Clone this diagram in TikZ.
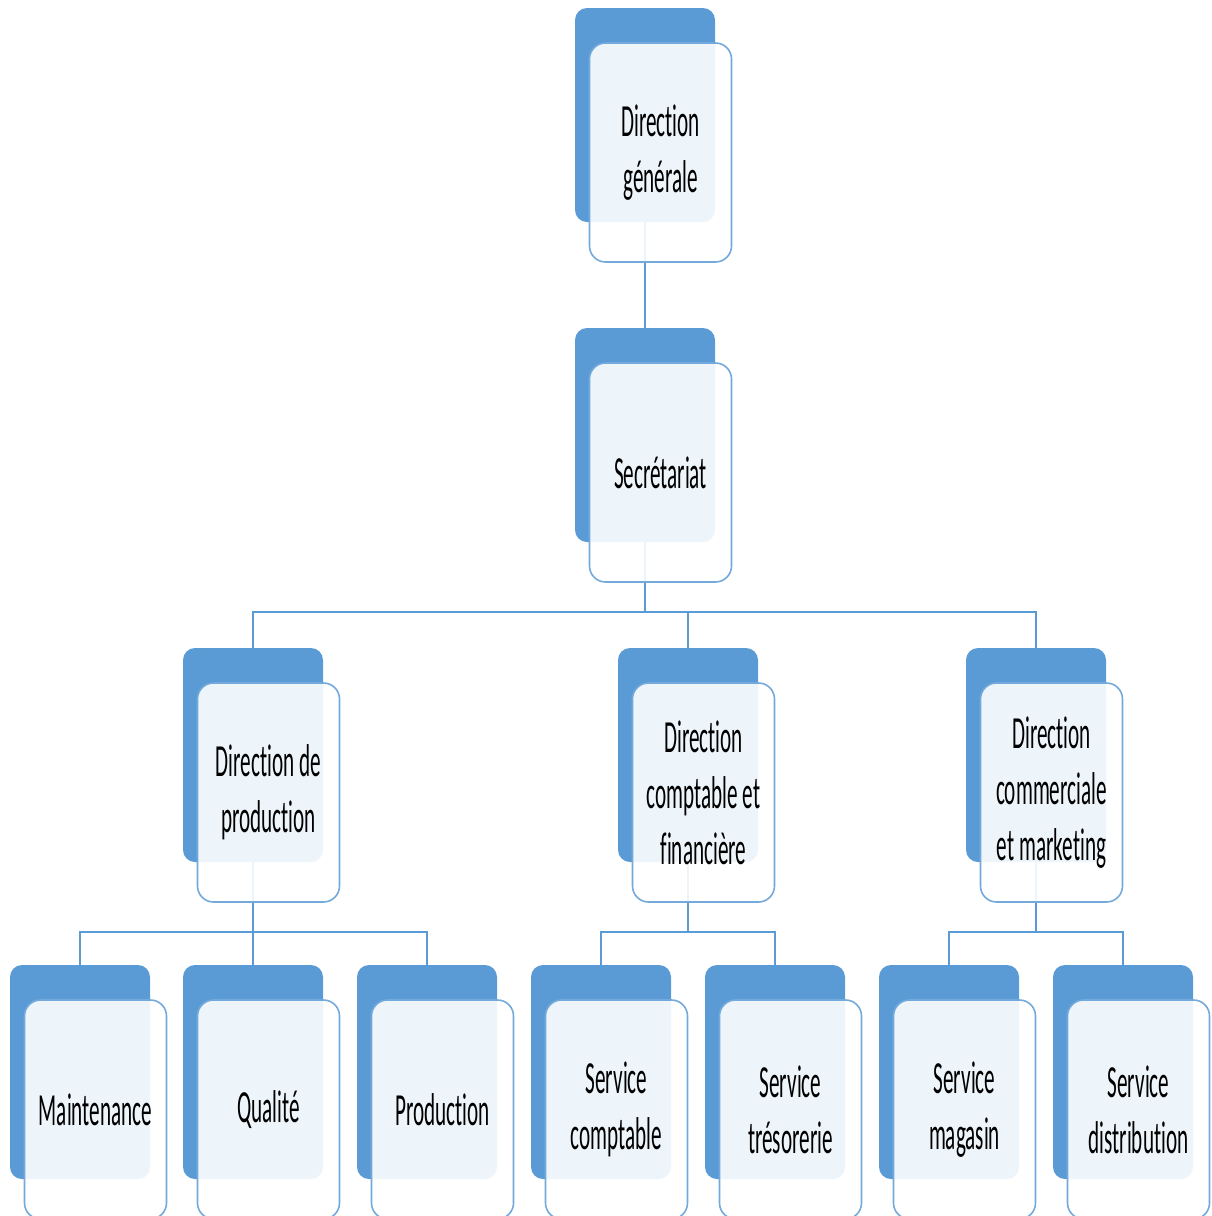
\documentclass[tikz,border=0pt]{standalone}
\usepackage{fontspec}
\newfontfamily\condfont[FakeStretch=0.46, Ligatures=CommonOff]{Carlito}
\usetikzlibrary{backgrounds}
\definecolor{ofblue}{HTML}{5B9BD5}
\tikzset{
    back/.style={rectangle, rounded corners=6pt, fill=ofblue, minimum width=70pt, minimum height=107pt, inner sep=0pt},
    front/.style={rectangle, rounded corners=8pt, draw=ofblue!85, line width=0.8pt, fill=white, fill opacity=0.9, text opacity=1, minimum width=71pt, minimum height=109.5pt, inner sep=2pt, align=center, font=\condfont\fontsize{23}{28}\selectfont},
    link/.style={draw=ofblue, line width=0.9pt}
}
\begin{document}
\begin{tikzpicture}[x=0.5pt, y=-0.5pt]
    \useasboundingbox (0,0) rectangle (1211,1216);
    \node[back] (dgb) at (645,115) {};
    \node[front] (dg) at ([shift={(15.5,37.5)}]dgb) {Direction\\générale};
    \node[back] (secb) at (645,435) {};
    \node[front] (sec) at ([shift={(15.5,37.5)}]secb) {Secrétariat};
    \foreach \x/\nm/\txt in {253/dp/{Direction de\\production}, 688/dcf/{Direction\\comptable et\\financière}, 1036/dcm/{Direction\\commerciale\\et marketing}} {
        \node[back] (\nm b) at (\x,755) {};
        \node[front] (\nm) at ([shift={(15.5,37.5)}]\nm b) {\txt};
    };
    \foreach \x/\nm/\txt in {80/mt/Maintenance, 253/ql/Qualité, 427/pr/Production, 601/sc/{Service\\comptable}, 775/st/{Service\\trésorerie}, 949/sm/{Service\\magasin}, 1123/sd/{Service\\distribution}} {
        \node[back] (\nm b) at (\x,1072) {};
        \node[front] (\nm) at ([shift={(15.5,37.5)}]\nm b) {\txt};
    };
    \begin{scope}[on background layer]
        \draw[link] (dgb.south) -- (secb.north);
        \foreach \n in {dpb, dcfb, dcmb} {
            \draw[link] (secb.south) |- ([yshift=18pt]\n.north) -- (\n.north);
        };
        \foreach \n in {mtb, qlb, prb} {
            \draw[link] (dpb.south) |- ([yshift=16.5pt]\n.north) -- (\n.north);
        };
        \foreach \n in {scb, stb} {
            \draw[link] (dcfb.south) |- ([yshift=16.5pt]\n.north) -- (\n.north);
        };
        \foreach \n in {smb, sdb} {
            \draw[link] (dcmb.south) |- ([yshift=16.5pt]\n.north) -- (\n.north);
        };
    \end{scope}
\end{tikzpicture}
\end{document}
